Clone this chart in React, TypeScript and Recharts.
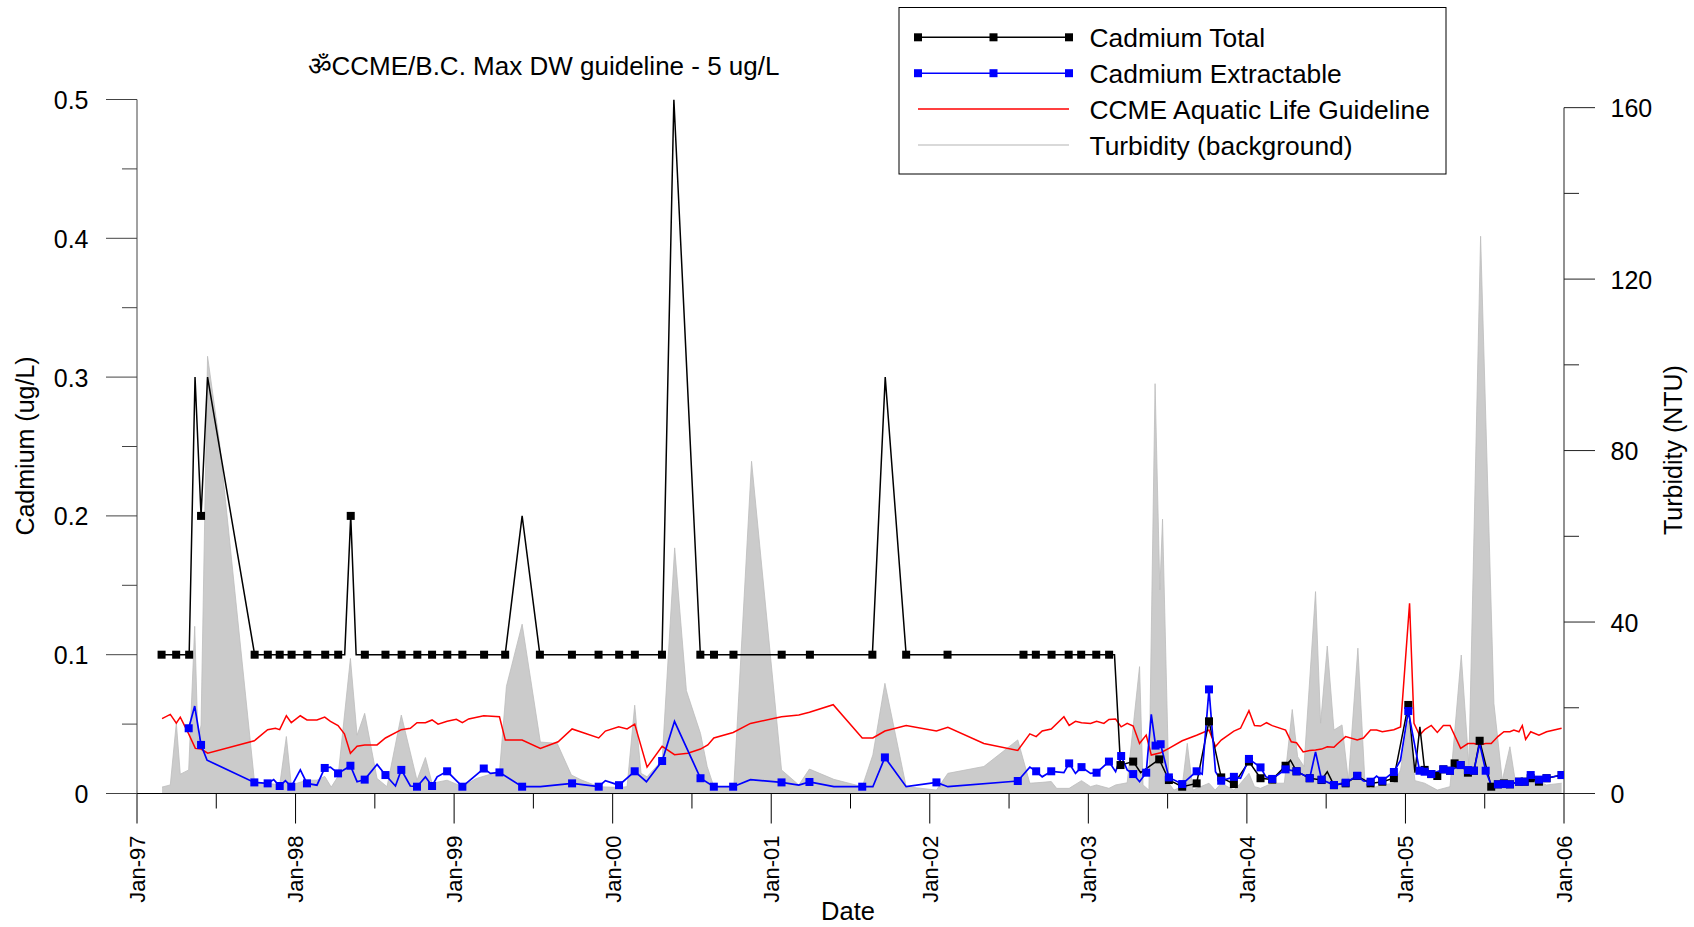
import React from 'react';
import { ComposedChart, Line, Area, XAxis, YAxis, ReferenceLine } from 'recharts';

const FONT = "'Liberation Sans', Arial, Helvetica, sans-serif";

// [decimal year, cadmium total (ug/L), marker drawn (1/0)]
const CD_TOTAL: [number, number, number][] = [
  [1997.155, 0.1, 1], [1997.247, 0.1, 1], [1997.329, 0.1, 1], [1997.366, 0.3, 0], [1997.404, 0.2, 1],
  [1997.445, 0.3, 0], [1997.742, 0.1, 1], [1997.825, 0.1, 1], [1997.9, 0.1, 1], [1997.975, 0.1, 1],
  [1998.074, 0.1, 1], [1998.187, 0.1, 1], [1998.269, 0.1, 1], [1998.31, 0.1, 0], [1998.348, 0.2, 1],
  [1998.382, 0.1, 0], [1998.437, 0.1, 1], [1998.567, 0.1, 1], [1998.669, 0.1, 1], [1998.768, 0.1, 1],
  [1998.861, 0.1, 1], [1998.957, 0.1, 1], [1999.052, 0.1, 1], [1999.189, 0.1, 1], [1999.322, 0.1, 1],
  [1999.429, 0.2, 0], [1999.541, 0.1, 1], [1999.743, 0.1, 1], [1999.911, 0.1, 1], [2000.041, 0.1, 1],
  [2000.14, 0.1, 1], [2000.311, 0.1, 1], [2000.386, 0.5, 0], [2000.553, 0.1, 1], [2000.639, 0.1, 1],
  [2000.762, 0.1, 1], [2001.066, 0.1, 1], [2001.244, 0.1, 1], [2001.638, 0.1, 1], [2001.719, 0.3, 0],
  [2001.851, 0.1, 1], [2002.112, 0.1, 1], [2002.591, 0.1, 1], [2002.669, 0.1, 1], [2002.768, 0.1, 1],
  [2002.876, 0.1, 1], [2002.955, 0.1, 1], [2003.05, 0.1, 1], [2003.131, 0.1, 1], [2003.165, 0.1, 0],
  [2003.203, 0.0205, 1], [2003.283, 0.023, 1], [2003.33, 0.015, 0], [2003.447, 0.0246, 1], [2003.508, 0.0097, 1],
  [2003.592, 0.0049, 1], [2003.683, 0.0073, 1], [2003.761, 0.052, 1], [2003.838, 0.0116, 1], [2003.918, 0.0068, 1],
  [2004.013, 0.023, 1], [2004.086, 0.011, 1], [2004.16, 0.01, 1], [2004.244, 0.02, 1], [2004.275, 0.024, 0],
  [2004.313, 0.016, 1], [2004.396, 0.011, 1], [2004.471, 0.0097, 1], [2004.507, 0.0157, 0], [2004.549, 0.006, 1],
  [2004.623, 0.0073, 1], [2004.696, 0.0126, 1], [2004.78, 0.0073, 1], [2004.854, 0.0085, 1], [2004.927, 0.011, 1],
  [2005.018, 0.0638, 1], [2005.06, 0.015, 0], [2005.091, 0.048, 0], [2005.121, 0.017, 1], [2005.163, 0.014, 1],
  [2005.201, 0.0126, 1], [2005.239, 0.0174, 1], [2005.281, 0.0164, 1], [2005.31, 0.0217, 1], [2005.348, 0.0205, 1],
  [2005.394, 0.015, 1], [2005.432, 0.0164, 1], [2005.468, 0.038, 1], [2005.541, 0.0049, 1], [2005.583, 0.0066, 1],
  [2005.621, 0.0073, 1], [2005.659, 0.0066, 1], [2005.716, 0.0085, 1], [2005.752, 0.0085, 1], [2005.79, 0.011, 1],
  [2005.842, 0.0085, 1], [2005.89, 0.011, 1], [2005.985, 0.0133, 1],
];

// [decimal year, cadmium extractable (ug/L), marker drawn (1/0)]
const CD_EXTRACTABLE: [number, number, number][] = [
  [1997.326, 0.047, 1], [1997.364, 0.063, 0], [1997.404, 0.035, 1], [1997.442, 0.024, 0], [1997.74, 0.008, 1],
  [1997.824, 0.0073, 1], [1997.862, 0.01, 0], [1997.9, 0.0054, 1], [1997.936, 0.0092, 0], [1997.973, 0.0049, 1],
  [1998.03, 0.017, 0], [1998.072, 0.0073, 1], [1998.135, 0.006, 0], [1998.184, 0.0184, 1], [1998.22, 0.019, 0],
  [1998.268, 0.0145, 1], [1998.346, 0.02, 1], [1998.388, 0.0085, 0], [1998.436, 0.01, 1], [1998.514, 0.021, 0],
  [1998.567, 0.0133, 1], [1998.63, 0.0054, 0], [1998.667, 0.017, 1], [1998.724, 0.0054, 0], [1998.766, 0.0049, 1],
  [1998.819, 0.012, 0], [1998.861, 0.0054, 1], [1998.893, 0.012, 0], [1998.956, 0.016, 1], [1999.052, 0.0049, 1],
  [1999.187, 0.018, 1], [1999.229, 0.0145, 0], [1999.286, 0.0152, 1], [1999.429, 0.0049, 1], [1999.544, 0.0049, 0],
  [1999.744, 0.0073, 1], [1999.912, 0.0049, 1], [1999.954, 0.0092, 0], [2000.04, 0.006, 1], [2000.139, 0.016, 1],
  [2000.213, 0.0085, 0], [2000.312, 0.0234, 1], [2000.39, 0.052, 0], [2000.554, 0.011, 1], [2000.638, 0.0049, 1],
  [2000.76, 0.0049, 1], [2000.869, 0.01, 0], [2001.065, 0.008, 1], [2001.174, 0.006, 0], [2001.241, 0.0083, 1],
  [2001.395, 0.0049, 0], [2001.574, 0.0049, 1], [2001.641, 0.0049, 0], [2001.717, 0.026, 1], [2001.851, 0.0049, 0],
  [2002.042, 0.008, 1], [2002.114, 0.0049, 0], [2002.555, 0.009, 1], [2002.631, 0.019, 0], [2002.671, 0.016, 1],
  [2002.709, 0.012, 0], [2002.766, 0.016, 1], [2002.846, 0.015, 0], [2002.879, 0.0217, 1], [2002.919, 0.0145, 0],
  [2002.957, 0.019, 1], [2003.014, 0.0145, 0], [2003.052, 0.015, 1], [2003.13, 0.023, 1], [2003.172, 0.0157, 0],
  [2003.207, 0.027, 1], [2003.245, 0.017, 0], [2003.283, 0.014, 1], [2003.323, 0.0085, 0], [2003.365, 0.015, 1],
  [2003.397, 0.057, 0], [2003.424, 0.0345, 1], [2003.456, 0.0355, 1], [2003.508, 0.0116, 1], [2003.592, 0.0068, 1],
  [2003.683, 0.016, 1], [2003.718, 0.014, 0], [2003.761, 0.075, 1], [2003.802, 0.0157, 0], [2003.838, 0.0092, 1],
  [2003.918, 0.012, 1], [2003.96, 0.011, 0], [2004.013, 0.0249, 1], [2004.086, 0.0188, 1], [2004.12, 0.012, 0],
  [2004.16, 0.0105, 1], [2004.244, 0.0174, 1], [2004.313, 0.016, 1], [2004.396, 0.011, 1], [2004.433, 0.03, 0],
  [2004.471, 0.01, 1], [2004.549, 0.0061, 1], [2004.623, 0.0078, 1], [2004.696, 0.0128, 1], [2004.735, 0.009, 0],
  [2004.78, 0.0085, 1], [2004.818, 0.0126, 0], [2004.854, 0.0092, 1], [2004.927, 0.0155, 1], [2004.969, 0.024, 0],
  [2005.018, 0.0594, 1], [2005.089, 0.0164, 1], [2005.121, 0.0157, 1], [2005.163, 0.014, 1], [2005.239, 0.0174, 1],
  [2005.281, 0.0164, 1], [2005.348, 0.0205, 1], [2005.394, 0.0169, 1], [2005.432, 0.0164, 1], [2005.468, 0.036, 0],
  [2005.506, 0.0164, 1], [2005.541, 0.006, 0], [2005.583, 0.0066, 1], [2005.621, 0.0068, 1], [2005.659, 0.0066, 1],
  [2005.716, 0.0085, 1], [2005.752, 0.0085, 1], [2005.79, 0.0133, 1], [2005.842, 0.01, 1], [2005.89, 0.011, 1],
  [2005.985, 0.0133, 1],
];

// [decimal year, CCME aquatic life guideline (ug/L)]
const CCME_GUIDELINE: [number, number][] = [
  [1997.158, 0.054], [1997.21, 0.057], [1997.248, 0.0506], [1997.273, 0.055], [1997.326, 0.043], [1997.368, 0.0325],
  [1997.404, 0.032], [1997.446, 0.029], [1997.74, 0.038], [1997.824, 0.046], [1997.873, 0.047], [1997.9, 0.046],
  [1997.942, 0.056], [1997.973, 0.051], [1998.03, 0.056], [1998.072, 0.053], [1998.135, 0.053], [1998.184, 0.055],
  [1998.22, 0.052], [1998.268, 0.049], [1998.308, 0.043], [1998.346, 0.029], [1998.388, 0.034], [1998.436, 0.035],
  [1998.514, 0.035], [1998.567, 0.04], [1998.667, 0.046], [1998.724, 0.047], [1998.766, 0.051], [1998.819, 0.051],
  [1998.861, 0.053], [1998.899, 0.05], [1998.956, 0.052], [1999.014, 0.0534], [1999.052, 0.051], [1999.092, 0.0537],
  [1999.187, 0.056], [1999.286, 0.0553], [1999.323, 0.0385], [1999.429, 0.0385], [1999.544, 0.0325], [1999.656, 0.0373],
  [1999.744, 0.0465], [1999.912, 0.04], [1999.954, 0.045], [2000.038, 0.048], [2000.091, 0.0465], [2000.139, 0.05],
  [2000.217, 0.019], [2000.312, 0.034], [2000.39, 0.028], [2000.474, 0.029], [2000.554, 0.032], [2000.6, 0.035],
  [2000.638, 0.04], [2000.76, 0.044], [2000.869, 0.0505], [2001.065, 0.0553], [2001.174, 0.0565], [2001.241, 0.0585],
  [2001.391, 0.064], [2001.574, 0.04], [2001.641, 0.04], [2001.717, 0.045], [2001.851, 0.049], [2002.042, 0.045],
  [2002.114, 0.0477], [2002.341, 0.036], [2002.555, 0.031], [2002.631, 0.043], [2002.671, 0.041], [2002.709, 0.045],
  [2002.766, 0.0465], [2002.846, 0.0553], [2002.879, 0.049], [2002.919, 0.052], [2002.957, 0.051], [2003.014, 0.0505],
  [2003.052, 0.052], [2003.098, 0.0505], [2003.13, 0.0534], [2003.172, 0.0537], [2003.207, 0.048], [2003.245, 0.0505],
  [2003.283, 0.0486], [2003.323, 0.036], [2003.365, 0.0421], [2003.397, 0.0277], [2003.456, 0.0294], [2003.508, 0.0325],
  [2003.592, 0.038], [2003.683, 0.042], [2003.761, 0.0457], [2003.802, 0.0338], [2003.838, 0.0385], [2003.918, 0.045],
  [2003.96, 0.047], [2004.013, 0.0597], [2004.048, 0.049], [2004.086, 0.0486], [2004.124, 0.051], [2004.16, 0.0489],
  [2004.244, 0.0457], [2004.28, 0.0373], [2004.313, 0.0366], [2004.355, 0.03], [2004.396, 0.031], [2004.433, 0.0313],
  [2004.471, 0.032], [2004.507, 0.0337], [2004.549, 0.0333], [2004.57, 0.0357], [2004.623, 0.041], [2004.696, 0.0385],
  [2004.735, 0.04], [2004.78, 0.0457], [2004.818, 0.0457], [2004.854, 0.0445], [2004.927, 0.046], [2004.969, 0.048],
  [2005.026, 0.137], [2005.054, 0.0505], [2005.089, 0.042], [2005.121, 0.046], [2005.163, 0.049], [2005.201, 0.044],
  [2005.239, 0.049], [2005.281, 0.049], [2005.348, 0.0325], [2005.394, 0.036], [2005.432, 0.036], [2005.468, 0.035],
  [2005.506, 0.036], [2005.541, 0.036], [2005.583, 0.041], [2005.621, 0.0445], [2005.659, 0.0445], [2005.684, 0.0457],
  [2005.716, 0.0445], [2005.737, 0.049], [2005.758, 0.039], [2005.79, 0.0445], [2005.842, 0.042], [2005.89, 0.0445],
  [2005.985, 0.047],
];

// [decimal year, turbidity (NTU)]
const TURBIDITY: [number, number][] = [
  [1997.158, 1.5], [1997.21, 2.0], [1997.248, 16.5], [1997.273, 4.5], [1997.326, 5.5], [1997.364, 39],
  [1997.385, 12], [1997.404, 16], [1997.445, 102], [1997.52, 82], [1997.742, 2.4], [1997.824, 2.4],
  [1997.9, 2.0], [1997.942, 13.3], [1997.973, 2.0], [1998.072, 3.1], [1998.135, 3.1], [1998.184, 4.0],
  [1998.225, 1.5], [1998.268, 4.0], [1998.346, 31.5], [1998.388, 13.6], [1998.436, 18.7], [1998.514, 3.5],
  [1998.577, 1.6], [1998.667, 18.3], [1998.766, 3.1], [1998.819, 8.4], [1998.861, 2.4], [1998.956, 3.1],
  [1999.052, 1.6], [1999.14, 3.5], [1999.229, 4.5], [1999.286, 5.0], [1999.33, 25], [1999.429, 39.5],
  [1999.544, 12], [1999.65, 11.7], [1999.74, 4.3], [1999.8, 3.2], [1999.912, 1.6], [2000.038, 1.4],
  [2000.091, 1.6], [2000.139, 20.6], [2000.179, 4.7], [2000.217, 3.9], [2000.312, 7.8], [2000.391, 57.3],
  [2000.465, 24], [2000.554, 14], [2000.596, 6.3], [2000.638, 1.6], [2000.764, 1.6], [2000.876, 77.5],
  [2001.065, 5.5], [2001.174, 2.0], [2001.241, 5.7], [2001.395, 3.3], [2001.574, 1.6], [2001.641, 9],
  [2001.717, 25.7], [2001.851, 1.6], [2002.042, 0.8], [2002.114, 4.7], [2002.341, 6.3], [2002.555, 12.5],
  [2002.631, 2.4], [2002.709, 2.6], [2002.766, 2.8], [2002.8, 1.2], [2002.879, 1.2], [2002.957, 3.0],
  [2003.014, 1.6], [2003.052, 2.0], [2003.13, 1.2], [2003.172, 2.0], [2003.245, 2.5], [2003.323, 29.6],
  [2003.345, 2.0], [2003.382, 0.8], [2003.421, 95.6], [2003.451, 47.5], [2003.468, 64], [2003.508, 2.4],
  [2003.54, 0.8], [2003.592, 1.6], [2003.624, 11.7], [2003.66, 0.8], [2003.683, 1.2], [2003.761, 2.4],
  [2003.8, 0.8], [2003.838, 2.4], [2003.918, 0.8], [2003.96, 2.4], [2004.013, 4.7], [2004.048, 1.6],
  [2004.086, 1.2], [2004.16, 2.4], [2004.236, 2.4], [2004.286, 19.6], [2004.32, 8.6], [2004.36, 6.3],
  [2004.433, 47.1], [2004.465, 16.4], [2004.507, 34.4], [2004.549, 14.8], [2004.6, 16], [2004.64, 3],
  [2004.7, 33.9], [2004.745, 2.4], [2004.78, 1.2], [2004.854, 2.0], [2004.927, 2.4], [2004.969, 5.5],
  [2005.018, 17], [2005.06, 3], [2005.121, 2.4], [2005.201, 0.8], [2005.281, 1.6], [2005.352, 32.3],
  [2005.4, 6.6], [2005.474, 130], [2005.558, 21], [2005.611, 3.1], [2005.659, 10.9], [2005.695, 2.4],
  [2005.752, 2.4], [2005.79, 3.1], [2005.842, 2.7], [2005.89, 2.0], [2005.985, 2.4],
];

const X_TICKS = [1997, 1997.5, 1998, 1998.5, 1999, 1999.5, 2000, 2000.5, 2001, 2001.5, 2002, 2002.5, 2003, 2003.5, 2004, 2004.5, 2005, 2005.5, 2006];
const X_TICK_LABELS = ['Jan-97', 'Jan-98', 'Jan-99', 'Jan-00', 'Jan-01', 'Jan-02', 'Jan-03', 'Jan-04', 'Jan-05', 'Jan-06'];
const LEFT_TICKS = [0, 0.05, 0.1, 0.15, 0.2, 0.25, 0.3, 0.35, 0.4, 0.45, 0.5];
const LEFT_TICK_LABELS = ['0', '0.1', '0.2', '0.3', '0.4', '0.5'];
const RIGHT_TICKS = [0, 20, 40, 60, 80, 100, 120, 140, 160];

const LEGEND_ITEMS = [
  { label: 'Cadmium Total', color: '#000000', markers: true },
  { label: 'Cadmium Extractable', color: '#0000ff', markers: true },
  { label: 'CCME Aquatic Life Guideline', color: '#ff0000', markers: false },
  { label: 'Turbidity (background)', color: '#cccccc', markers: false },
];

const totalData = CD_TOTAL.map(([t, v, m]) => ({ t, v, m }));
const extData = CD_EXTRACTABLE.map(([t, v, m]) => ({ t, v, m }));
const ccmeData = CCME_GUIDELINE.map(([t, v]) => ({ t, v }));
const turbData = TURBIDITY.map(([t, v]) => ({ t, v }));

const squareDot = (color: string) => (props: any) => {
  const { cx, cy, payload, index } = props;
  if (!payload || !payload.m || cx == null || cy == null) return <g key={`n${index}`} />;
  return <rect key={`s${index}`} x={cx - 4} y={cy - 4} width={8} height={8} fill={color} />;
};

const XTick = (props: any) => {
  const { x, y, payload } = props;
  const v = payload.value;
  const major = Math.abs(v - Math.round(v)) < 1e-6;
  const ty = y + 42;
  return (
    <g>
      <line x1={x} y1={y} x2={x} y2={y + (major ? 30 : 15)} stroke="#000" strokeWidth={1} />
      {major && (
        <text x={x} y={ty} transform={`rotate(-90 ${x} ${ty})`} textAnchor="end" dy="0.36em"
          fontSize={22} fontFamily={FONT} fill="#000">
          {X_TICK_LABELS[Math.round(v) - 1997]}
        </text>
      )}
    </g>
  );
};

const LeftTick = (props: any) => {
  const { x, y, payload } = props;
  const v = payload.value;
  const major = Math.abs(v * 10 - Math.round(v * 10)) < 1e-6;
  return (
    <g>
      <line x1={x - (major ? 31 : 15)} y1={y} x2={x} y2={y} stroke="#444" strokeWidth={1} />
      {major && (
        <text x={x - 48.5} y={y} dy="0.38em" textAnchor="end" fontSize={25} fontFamily={FONT} fill="#000">
          {LEFT_TICK_LABELS[Math.round(v * 10)]}
        </text>
      )}
    </g>
  );
};

const RightTick = (props: any) => {
  const { x, y, payload } = props;
  const v = payload.value;
  const major = v % 40 === 0;
  return (
    <g>
      <line x1={x} y1={y} x2={x + (major ? 31 : 15)} y2={y} stroke="#222" strokeWidth={1} />
      {major && (
        <text x={x + 46.5} y={y} dy="0.38em" textAnchor="start" fontSize={25} fontFamily={FONT} fill="#000">
          {String(v)}
        </text>
      )}
    </g>
  );
};

const Overlay = () => {
  const rowY = (i: number) => 37.3 + i * 35.9;
  return (
    <svg width={1694} height={927} style={{ position: 'absolute', left: 0, top: 0, pointerEvents: 'none' }}>
      <text x={543.5} y={75} textAnchor="middle" fontSize={26} fontFamily={FONT} fill="#000">
        ॐCCME/B.C. Max DW guideline - 5 ug/L
      </text>
      <text x={33.5} y={446} transform="rotate(-90 33.5 446)" textAnchor="middle" fontSize={25} fontFamily={FONT} fill="#000">
        Cadmium (ug/L)
      </text>
      <text x={1681.5} y={450} transform="rotate(-90 1681.5 450)" textAnchor="middle" fontSize={25} fontFamily={FONT} fill="#000">
        Turbidity (NTU)
      </text>
      <text x={848} y={920} textAnchor="middle" fontSize={25.5} fontFamily={FONT} fill="#000">
        Date
      </text>
      <rect x={899} y={7.5} width={547} height={166.5} fill="#fff" stroke="#000" strokeWidth={1} />
      {LEGEND_ITEMS.map((it, i) => (
        <g key={it.label}>
          <line x1={918} y1={rowY(i)} x2={1069} y2={rowY(i)} stroke={it.color} strokeWidth={1.5} />
          {it.markers && [918, 993.5, 1069].map((mx) => (
            <rect key={mx} x={mx - 4} y={rowY(i) - 4} width={8} height={8} fill={it.color} />
          ))}
          <text x={1089.5} y={rowY(i)} dy="0.36em" fontSize={26.4} fontFamily={FONT} fill="#000">
            {it.label}
          </text>
        </g>
      ))}
    </svg>
  );
};

export default function App() {
  return (
    <div style={{ position: 'absolute', left: 0, top: 0, width: 1694, height: 927, background: '#fff', fontFamily: FONT }}>
      <ComposedChart width={1694} height={927} margin={{ top: 99.5, right: 0, bottom: 0, left: 0 }}>
        <XAxis
          dataKey="t"
          type="number"
          domain={[1997, 2006]}
          ticks={X_TICKS}
          interval={0}
          allowDataOverflow
          height={133.5}
          tickSize={0}
          tickMargin={0}
          tickLine={false}
          axisLine={{ stroke: '#000', strokeWidth: 1 }}
          tick={<XTick />}
        />
        <YAxis
          yAxisId="left"
          type="number"
          domain={[0, 0.5]}
          ticks={LEFT_TICKS}
          interval={0}
          allowDataOverflow
          width={137}
          tickSize={0}
          tickMargin={0}
          tickLine={false}
          axisLine={{ stroke: '#444', strokeWidth: 1 }}
          tick={<LeftTick />}
        />
        <YAxis
          yAxisId="right"
          orientation="right"
          type="number"
          domain={[0, 161.9]}
          ticks={RIGHT_TICKS}
          interval={0}
          allowDataOverflow
          width={130}
          tickSize={0}
          tickMargin={0}
          tickLine={false}
          axisLine={false}
          tick={<RightTick />}
        />
        <Area
          yAxisId="right"
          data={turbData}
          dataKey="v"
          type="linear"
          fill="#cbcbcb"
          fillOpacity={1}
          stroke="#bdbdbd"
          strokeWidth={0.8}
          dot={false}
          activeDot={false}
          isAnimationActive={false}
        />
        <Line
          yAxisId="left"
          data={ccmeData}
          dataKey="v"
          type="linear"
          stroke="#ff0000"
          strokeWidth={1.5}
          dot={false}
          activeDot={false}
          isAnimationActive={false}
        />
        <Line
          yAxisId="left"
          data={totalData}
          dataKey="v"
          type="linear"
          stroke="#000000"
          strokeWidth={1.5}
          dot={squareDot('#000000')}
          activeDot={false}
          isAnimationActive={false}
        />
        <Line
          yAxisId="left"
          data={extData}
          dataKey="v"
          type="linear"
          stroke="#0000ff"
          strokeWidth={1.7}
          dot={squareDot('#0000ff')}
          activeDot={false}
          isAnimationActive={false}
        />
        <ReferenceLine
          yAxisId="right"
          segment={[{ x: 2006, y: 0 }, { x: 2006, y: 160 }]}
          stroke="#222"
          strokeWidth={1}
          ifOverflow="visible"
        />
      </ComposedChart>
      <Overlay />
    </div>
  );
}
